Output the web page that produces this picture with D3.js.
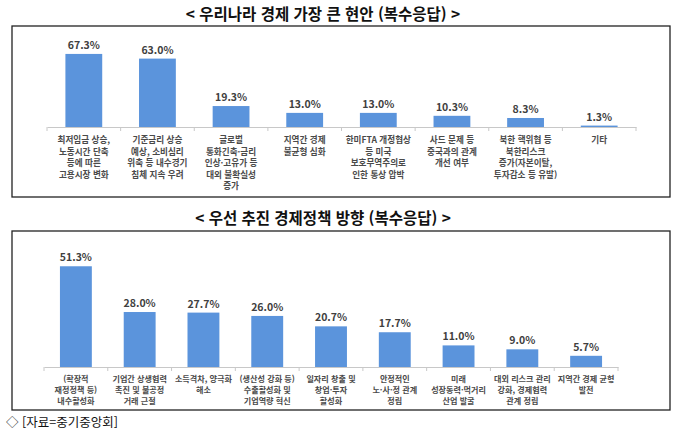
<!DOCTYPE html>
<html lang="ko">
<head>
    <meta charset="UTF-8">
    <title>중기중앙회 경제 현안 조사</title>
    <script src="https://cdn.jsdelivr.net/npm/d3@7"></script>
    <style>
        body { margin: 0; background: #fff; }
        text { font-family: "Noto Sans CJK KR", "Noto Sans", sans-serif; }
    </style>
</head>
<body>
<svg id="chart" width="680" height="435"></svg>
<script>
    // 우리나라 경제 가장 큰 현안
    const issueLabels = [
        "최저임금 상승,\n노동시간 단축\n등에 따른\n고용시장 변화",
        "기준금리 상승\n예상, 소비심리\n위축 등 내수경기\n침체 지속 우려",
        "글로벌\n통화긴축·금리\n인상·고유가 등\n대외 불확실성\n증가",
        "지역간 경제\n불균형 심화",
        "한미FTA 개정협상\n등 미국\n보호무역주의로\n인한 통상 압박",
        "사드 문제 등\n중국과의 관계\n개선 여부",
        "북한 핵위협 등\n북한리스크\n증가(자본이탈,\n투자감소 등 유발)",
        "기타"
    ];
    const issueValues = [67.3, 63.0, 19.3, 13.0, 13.0, 10.3, 8.3, 1.3];

    // 우선 추진 경제정책 방향
    const policyLabels = [
        "(확장적\n재정정책 등)\n내수활성화",
        "기업간 상생협력\n촉진 및 불공정\n거래 근절",
        "소득격차, 양극화\n해소",
        "(생산성 강화 등)\n수출활성화 및\n기업역량 혁신",
        "일자리 창출 및\n창업·투자\n활성화",
        "안정적인\n노·사·정 관계\n정립",
        "미래\n성장동력·먹거리\n산업 발굴",
        "대외 리스크 관리\n강화, 경제협력\n관계 정립",
        "지역간 경제 균형\n발전"
    ];
    const policyValues = [51.3, 28.0, 27.7, 26.0, 20.7, 17.7, 11.0, 9.0, 5.7];

    const svg = d3.select('svg#chart');
    const barColour = '#5b94dc';

    function drawPanel(cfg) {
        let g = svg.append('g');

        // 제목
        g.append('text')
            .attr('x', 323)
            .attr('y', cfg.titleY)
            .attr('text-anchor', 'middle')
            .style('font-size', '15.5px')
            .style('font-weight', 'bold')
            .style('fill', '#111')
            .text(cfg.title);

        // 테두리
        g.append('rect')
            .attr('x', 12).attr('y', cfg.box[0])
            .attr('width', 658).attr('height', cfg.box[1] - cfg.box[0])
            .style('fill', 'none')
            .style('stroke', '#222')
            .style('stroke-width', 1.3);

        let xScale = d3.scaleBand()
            .domain(d3.range(cfg.values.length))
            .range(cfg.xRange)
            .paddingInner(0.5)
            .paddingOuter(0.25);
        let yScale = d3.scaleLinear().domain(cfg.yDomain).range([cfg.base, cfg.yTop]);

        g.selectAll('rect.bar')
            .data(cfg.values)
            .enter()
            .append('rect')
            .attr('class', 'bar')
            .attr('x', (d, i) => xScale(i))
            .attr('y', d => yScale(d))
            .attr('width', xScale.bandwidth())
            .attr('height', d => yScale(0) - yScale(d))
            .style('fill', barColour);

        // 축
        let axis = g.append('g')
            .attr('transform', 'translate(0,' + cfg.base + ')')
            .call(d3.axisBottom(xScale).tickSize(0).tickSizeOuter(0).tickFormat(''));
        axis.select('.domain').style('stroke', '#c8c8c8');
        let step = xScale.step();
        let bounds = d3.range(cfg.values.length + 1).map(i => cfg.xRange[0] + i * step);
        axis.selectAll('line.sep')
            .data(bounds)
            .enter()
            .append('line')
            .attr('class', 'sep')
            .attr('x1', d => d).attr('x2', d => d)
            .attr('y1', 0).attr('y2', 4)
            .style('stroke', '#c8c8c8');

        // 값 라벨
        g.selectAll('text.value')
            .data(cfg.values)
            .enter()
            .append('text')
            .attr('class', 'value')
            .attr('x', (d, i) => xScale(i) + xScale.bandwidth() / 2)
            .attr('y', d => yScale(d) - 5)
            .attr('text-anchor', 'middle')
            .style('font-size', '10.5px')
            .style('font-weight', 'bold')
            .style('fill', '#404040')
            .text(d => d.toFixed(1) + '%');

        // 항목 라벨
        let labels = g.selectAll('text.cat')
            .data(cfg.labels)
            .enter()
            .append('text')
            .attr('class', 'cat')
            .attr('text-anchor', 'middle')
            .style('font-size', cfg.labelSize + 'px')
            .style('font-weight', 'bold')
            .style('fill', '#4a4a4a');
        labels.each(function (d, i) {
            let cx = xScale(i) + xScale.bandwidth() / 2;
            d3.select(this).selectAll('tspan')
                .data(d.split('\n'))
                .enter()
                .append('tspan')
                .attr('x', cx)
                .attr('y', (t, j) => cfg.labelY + j * cfg.lineGap)
                .text(t => t);
        });
    }

    drawPanel({
        title: '< 우리나라 경제 가장 큰 현안 (복수응답) >',
        titleY: 20,
        box: [26, 197],
        labels: issueLabels,
        values: issueValues,
        xRange: [47, 636],
        base: 127,
        yDomain: [0, 70],
        yTop: 51,
        labelY: 143,
        lineGap: 11.5,
        labelSize: 8.6
    });

    drawPanel({
        title: '< 우선 추진 경제정책 방향 (복수응답) >',
        titleY: 224,
        box: [231, 410],
        labels: policyLabels,
        values: policyValues,
        xRange: [44, 618],
        base: 367,
        yDomain: [0, 55],
        yTop: 259,
        labelY: 382,
        lineGap: 11,
        labelSize: 8.1
    });

    // 출처
    svg.append('text')
        .attr('x', 6)
        .attr('y', 427)
        .style('font-size', '12.5px')
        .style('fill', '#111')
        .text('◇ [자료=중기중앙회]');
</script>
</body>
</html>
